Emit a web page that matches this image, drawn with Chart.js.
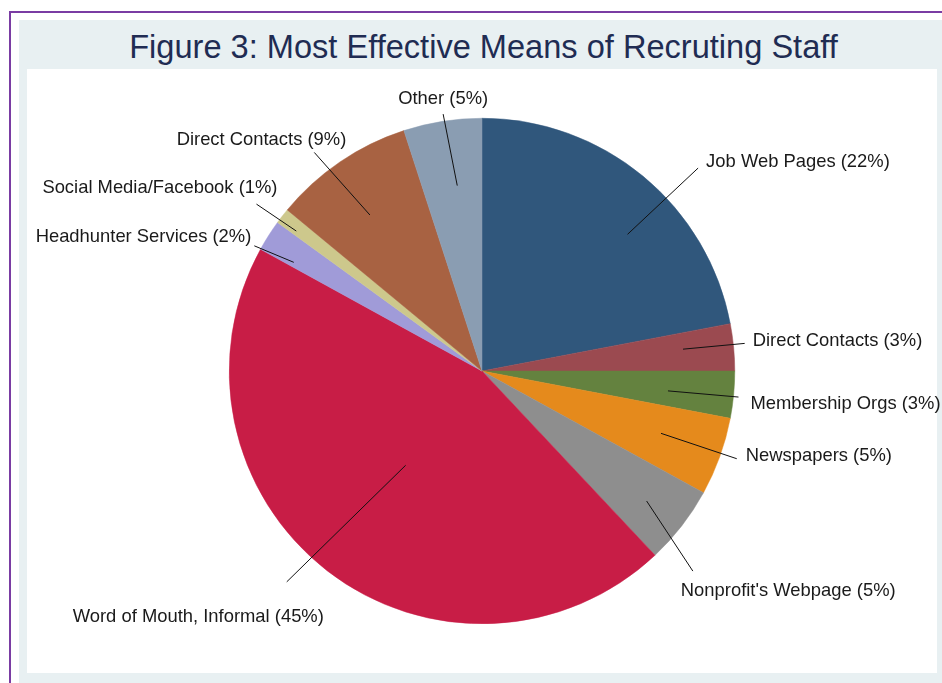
<!DOCTYPE html>
<html>
<head>
<meta charset="utf-8">
<title>Figure 3</title>
<script src="https://cdn.jsdelivr.net/npm/chart.js@4"></script>
<style>
	html, body { margin: 0; padding: 0; background: #fff; }
	body { width: 942px; height: 683px; position: relative; overflow: hidden; font-family: "Liberation Sans", Arial, sans-serif; }
	#frame { position: absolute; left: 9px; top: 11px; right: 0; bottom: 0; border-top: 2px solid #7a3ca3; border-left: 2px solid #7a3ca3; }
	#panel { position: absolute; left: 19px; top: 20px; right: 0; bottom: 0; background: #e8f0f2; }
	#title { position: absolute; left: 25px; right: 0; top: 29px; text-align: center; font-size: 32.6px; color: #1f2c53; line-height: 36px; }
	#plot { position: absolute; left: 27px; top: 69px; width: 910px; height: 604px; background: #fff; }
	#chartBox { position: absolute; left: 27px; top: 69px; width: 915px; height: 604px; }
</style>
</head>
<body>
<div id="frame"></div>
<div id="panel"></div>
<div id="title">Figure 3: Most Effective Means of Recruting Staff</div>
<div id="plot"></div>
<div id="chartBox"><canvas id="pieChart" width="915" height="604"></canvas></div>
<script>
// slices, clockwise from 12 o'clock
const categories = [
	'Job Web Pages',
	'Direct Contacts',
	'Membership Orgs',
	'Newspapers',
	"Nonprofit's Webpage",
	'Word of Mouth, Informal',
	'Headhunter Services',
	'Social Media/Facebook',
	'Direct Contacts',
	'Other'
];
const percents = [22, 3, 3, 5, 5, 45, 2, 1, 9, 5];
const sliceColors = [
	'#30577c', '#9b4a50', '#64823f', '#e58a1c', '#8e8e8e',
	'#c81d46', '#a09bd8', '#cdc88c', '#a86242', '#8a9db2'
];

// leader line runs from r0 to r1 (fractions of the radius), turned a0/a1 degrees
// off the slice middle; the text sits dx/dy away from the outer end
const labelPlacement = [
	{ r0: 0.79, a0: 7.2, r1: 1.173, a1: 7.2, dx: 8, dy: -6, align: 'left' },
	{ r0: 0.80, a0: -0.8, r1: 1.045, a1: -0.6, dx: 8, dy: -2, align: 'left' },
	{ r0: 0.74, a0: 0.7, r1: 1.02, a1: 0.4, dx: 12, dy: 7, align: 'left' },
	{ r0: 0.75, a0: -0.6, r1: 1.066, a1: -0.8, dx: 9, dy: -3, align: 'left' },
	{ r0: 0.83, a0: 0.5, r1: 1.15, a1: 5.7, dx: -12, dy: 20, align: 'left' },
	{ r0: 0.48, a0: 1.2, r1: 1.137, a1: 5.0, dx: -214, dy: 35, align: 'left' },
	{ r0: 0.86, a0: -2.4, r1: 1.028, a1: -3.6, dx: -3, dy: -9, align: 'right' },
	{ r0: 0.92, a0: -0.8, r1: 1.11, a1: -1.3, dx: 21, dy: -16, align: 'right' },
	{ r0: 0.76, a0: -1.5, r1: 1.09, a1: -3.3, dx: 32, dy: -13, align: 'right' },
	{ r0: 0.74, a0: 1.4, r1: 1.028, a1: 0.4, dx: 0, dy: -15, align: 'center' }
];

const leaderLabels = {
	id: 'leaderLabels',
	afterDatasetsDraw(chart) {
		const ctx = chart.ctx;
		const arcs = chart.getDatasetMeta(0).data;
		const deg = Math.PI / 180;
		ctx.save();
		ctx.font = '18.4px "Liberation Sans", Arial, sans-serif';
		ctx.textBaseline = 'middle';
		arcs.forEach((arc, i) => {
			const p = arc.getProps(['x', 'y', 'startAngle', 'endAngle', 'outerRadius'], true);
			const mid = (p.startAngle + p.endAngle) / 2;
			const place = labelPlacement[i];
			const t0 = mid + place.a0 * deg;
			const t1 = mid + place.a1 * deg;
			const x0 = p.x + Math.cos(t0) * p.outerRadius * place.r0;
			const y0 = p.y + Math.sin(t0) * p.outerRadius * place.r0;
			const x1 = p.x + Math.cos(t1) * p.outerRadius * place.r1;
			const y1 = p.y + Math.sin(t1) * p.outerRadius * place.r1;
			ctx.strokeStyle = '#111';
			ctx.lineWidth = 1;
			ctx.beginPath();
			ctx.moveTo(x0, y0);
			ctx.lineTo(x1, y1);
			ctx.stroke();
			ctx.fillStyle = '#1a1a1a';
			ctx.textAlign = place.align;
			ctx.fillText(categories[i] + ' (' + percents[i] + '%)', x1 + place.dx, y1 + place.dy);
		});
		ctx.restore();
	}
};

new Chart(document.getElementById('pieChart').getContext('2d'), {
	type: 'pie',
	data: {
		labels: categories,
		datasets: [{
			data: percents,
			backgroundColor: sliceColors,
			borderColor: sliceColors,
			borderWidth: 0.5
		}]
	},
	options: {
		responsive: false,
		animation: false,
		layout: { padding: { left: 49, right: 54, top: 49, bottom: 49 } },
		plugins: {
			legend: { display: false },
			tooltip: { enabled: false }
		}
	},
	plugins: [leaderLabels]
});
</script>
</body>
</html>
